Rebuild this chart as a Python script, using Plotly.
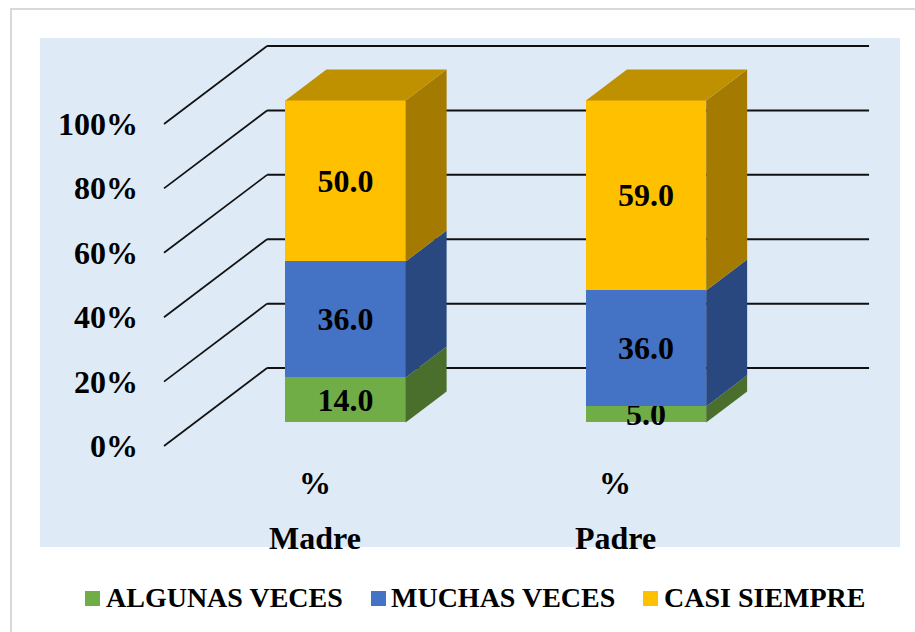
"""Stacked 3D-look columns: Madre / Padre frequency by answer."""

import plotly.graph_objects as go

CATEGORIES = ["Madre", "Padre"]
SUB_LABEL = "%"
ALGUNAS = [14.0, 5.0]
MUCHAS = [36.0, 36.0]
CASI = [50.0, 59.0]
TICKS = [0, 20, 40, 60, 80, 100]

SERIES = [
    ("ALGUNAS VECES", ALGUNAS, "#70AD47", "#4A6E2C"),
    ("MUCHAS VECES", MUCHAS, "#4472C4", "#2A4880"),
    ("CASI SIEMPRE", CASI, "#FFC000", "#A47B00"),
]
TOP_COLOR = "#BF9000"

FONT = "Liberation Serif"
BIG = dict(family=FONT, size=32, color="black", weight="bold")
BAR_W = 0.4
# fake perspective offsets, in axis units
DEPTH_X, DEPTH_Y = 0.1364, 9.63
WALL_X0, WALL_X1, WALL_X2 = -0.604, -0.261, 1.742
FRONT_DY, BACK_DY = -7.3, 16.9
# hand placed legend: swatch left edge and text left edge, in pixels
LEGEND_X = [(85, 104), (371, 389), (643, 662)]
PLOT_L, PLOT_W, PLOT_B, PLOT_H = 40, 860, 547, 509

fig = go.Figure()

# front faces
for name, vals, color, _ in SERIES:
    fig.add_trace(go.Bar(
        x=list(range(len(CATEGORIES))), y=vals, name=name, width=BAR_W,
        marker=dict(color=color, line=dict(width=0)),
        text=[f"{v:.1f}" for v in vals], textposition="inside",
        insidetextanchor="middle", textangle=0, constraintext="none",
        textfont=BIG, cliponaxis=False, showlegend=False,
    ))

# side and top faces
for i in range(len(CATEGORIES)):
    right = i + BAR_W / 2
    left = i - BAR_W / 2
    base = 0
    for name, vals, _, side in SERIES:
        y0, y1 = base, base + vals[i]
        fig.add_trace(go.Scatter(
            x=[right, right + DEPTH_X, right + DEPTH_X, right, right],
            y=[y0, y0 + DEPTH_Y, y1 + DEPTH_Y, y1, y0],
            mode="lines", fill="toself", fillcolor=side, line=dict(width=0),
            showlegend=False, hoverinfo="skip",
        ))
        base = y1
    fig.add_trace(go.Scatter(
        x=[left, left + DEPTH_X, right + DEPTH_X, right, left],
        y=[base, base + DEPTH_Y, base + DEPTH_Y, base, base],
        mode="lines", fill="toself", fillcolor=TOP_COLOR, line=dict(width=0),
        showlegend=False, hoverinfo="skip",
    ))

# gridlines on the floor edge and back wall, behind the bars
for t in TICKS:
    fig.add_shape(type="line", layer="below", x0=WALL_X0, y0=t + FRONT_DY, x1=WALL_X1, y1=t + BACK_DY,
                  line=dict(color="#111111", width=1.75))
    fig.add_shape(type="line", layer="below", x0=WALL_X1, y0=t + BACK_DY, x1=WALL_X2, y1=t + BACK_DY,
                  line=dict(color="#111111", width=2))
    fig.add_annotation(x=WALL_X0, y=t + FRONT_DY, xshift=-24, text=f"{t}%", showarrow=False,
                       xanchor="right", font=BIG)

# chart frame
fig.add_shape(type="rect", xref="paper", yref="paper", layer="below",
              x0=-29 / PLOT_W, x1=1.05, y0=-0.2, y1=1.0569,
              line=dict(color="#D9D9D9", width=2))

for i, cat in enumerate(CATEGORIES):
    fig.add_annotation(x=i - 0.102, y=-18.85, text=SUB_LABEL, showarrow=False, font=BIG)
    fig.add_annotation(x=i - 0.102, y=-35.85, text=cat, showarrow=False, font=BIG)

# legend row
for (name, _, color, _), (sx, tx) in zip(SERIES, LEGEND_X):
    fig.add_shape(type="rect", xref="paper", yref="paper", line=dict(width=0), fillcolor=color,
                  x0=(sx - PLOT_L) / PLOT_W, x1=(sx + 15 - PLOT_L) / PLOT_W,
                  y0=(PLOT_B - 606) / PLOT_H, y1=(PLOT_B - 591) / PLOT_H)
    fig.add_annotation(xref="paper", yref="paper", x=(tx - PLOT_L) / PLOT_W, y=(PLOT_B - 598) / PLOT_H,
                       text=name, showarrow=False, xanchor="left", yanchor="middle",
                       font=dict(family=FONT, size=28, color="black", weight="bold"))

fig.update_layout(
    width=915, height=632, barmode="stack", bargap=0, showlegend=False,
    paper_bgcolor="white", plot_bgcolor="#DEEAF6",
    margin=dict(l=40, r=15, t=38, b=85, autoexpand=False),
    xaxis=dict(visible=False, range=[-1.0166, 1.845]),
    yaxis=dict(visible=False, range=[-38.67, 119.4]),
)

fig.write_html("out.html", config=dict(displayModeBar=False),
               post_script="document.body.style.margin='0';")
